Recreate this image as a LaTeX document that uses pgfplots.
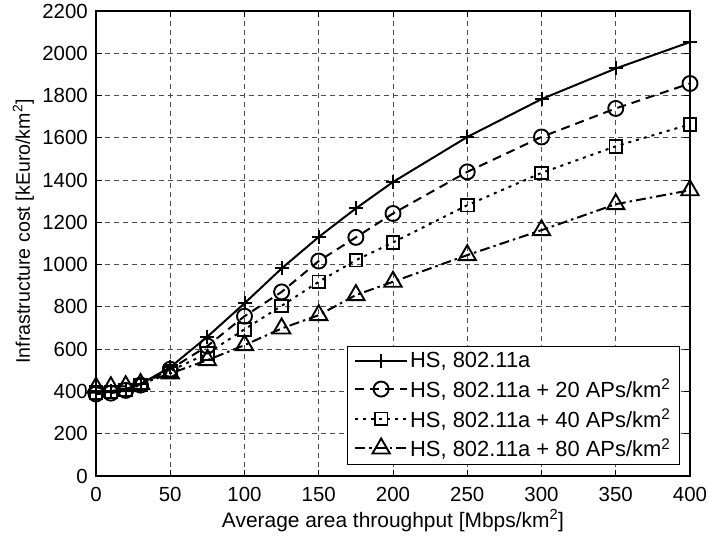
\documentclass[border=0pt]{standalone}
\usepackage{fontspec}
\setmainfont{Liberation Sans}
\usepackage{pgfplots}
\pgfplotsset{compat=1.18}
\begin{document}
\begin{tikzpicture}
\begin{axis}[
  scale only axis,
  width=594bp, height=465bp,
  xmin=0, xmax=400, ymin=0, ymax=2200,
  xtick={0,50,...,400},
  ytick={0,200,...,2200},
  grid=major,
  major grid style={dash pattern=on 5bp off 4bp, black!70, line width=0.9bp},
  tick align=inside,
  major tick length=6bp,
  axis line style={line width=1.3bp},
  tick style={line width=1bp, black},
  /pgf/number format/assume math mode=true,
  /pgf/number format/1000 sep={},
  tick label style={font=\fontsize{20.5}{24}\selectfont, inner sep=0pt},
  xticklabel style={anchor=base},
  xticklabel shift=25bp,
  yticklabel shift=8bp,
  xlabel={Average area throughput [Mbps/km\textsuperscript{2}]},
  ylabel={Infrastructure cost [kEuro/km\textsuperscript{2}]},
  xlabel style={font=\fontsize{21}{24}\selectfont, at={(rel axis cs:0.5,0)}, anchor=base, yshift=-51bp},
  ylabel style={font=\fontsize{19.7}{24}\selectfont, at={([xshift=-66bp,yshift=12bp]rel axis cs:0,0.5)}, anchor=base},
  legend cell align=left,
  legend style={at={(rel axis cs:0.983,0.024)}, anchor=south east,
    font=\fontsize{22}{25}\selectfont, draw=black, line width=1.1bp,
    inner xsep=7bp, inner ysep=4bp, row sep=6bp},
  legend image code/.code={
    \draw[mark repeat=2,mark phase=2] plot coordinates {(0bp,0bp) (26bp,0bp) (52bp,0bp)};
  },
  every axis plot/.append style={line width=2bp, black},
]
\addplot[mark=+, mark size=7bp, solid, mark options={line width=2bp}] coordinates {
(0,400) (10,402) (20,412) (30,435) (50,515) (75,659) (100,817) (125,982) (150,1131) (175,1266) (200,1391) (250,1604) (300,1783) (350,1928) (400,2053)};
\addlegendentry{HS, 802.11a}
\addplot[mark=o, mark size=7.5bp, dash pattern=on 9bp off 6bp, mark options={solid, line width=1.9bp}] coordinates {
(0,388) (10,392) (20,405) (30,430) (50,505) (75,615) (100,756) (125,871) (150,1017) (175,1129) (200,1242) (250,1439) (300,1604) (350,1739) (400,1857)};
\addlegendentry{HS, 802.11a + 20 APs/km\textsuperscript{2}}
\addplot[mark=square, mark size=6.3bp, dash pattern=on 3bp off 5bp, mark options={solid, line width=1.9bp}] coordinates {
(0,395) (10,398) (20,408) (30,430) (50,497) (75,580) (100,694) (125,805) (150,919) (175,1021) (200,1105) (250,1281) (300,1434) (350,1560) (400,1664)};
\addlegendentry{HS, 802.11a + 40 APs/km\textsuperscript{2}}
\addplot[mark=triangle, mark size=10bp, dash pattern=on 10bp off 4bp on 2.5bp off 4bp, mark options={solid, line width=1.9bp}] coordinates {
(0,418) (10,420) (20,425) (30,435) (50,485) (75,548) (100,619) (125,698) (150,761) (175,856) (200,919) (250,1045) (300,1163) (350,1286) (400,1352)};
\addlegendentry{HS, 802.11a + 80 APs/km\textsuperscript{2}}
\end{axis}
\pgfresetboundingbox
\path[use as bounding box] ([shift={(-96bp,-65bp)}]current axis.south west) rectangle ([shift={(19bp,11bp)}]current axis.north east);
\end{tikzpicture}
\end{document}
